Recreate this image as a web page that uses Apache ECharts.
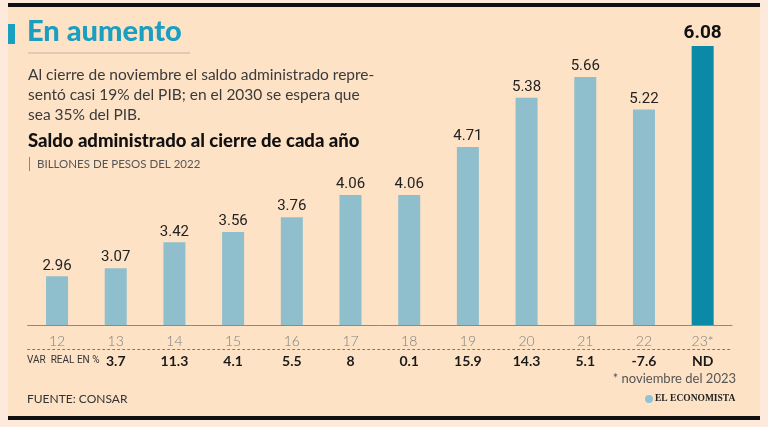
<!DOCTYPE html>
<html><head><meta charset="utf-8">
<script src="https://cdn.jsdelivr.net/npm/echarts@6/dist/echarts.min.js"></script>
<style>html,body{margin:0;padding:0;background:#fdeadc;}#c{width:768px;height:427px;}</style>
</head><body><div id="c"></div>
<script>
const years = ['12','13','14','15','16','17','18','19','20','21','22','23*'];
const saldo = [2.96,3.07,3.42,3.56,3.76,4.06,4.06,4.71,5.38,5.66,5.22,6.08];
const varReal = ['','3.7','11.3','4.1','5.5','8','0.1','15.9','14.3','5.1','-7.6','ND'];

const chart = echarts.init(document.getElementById('c'), null, {renderer:'canvas'});
const light = '#8fbfcc', dark = '#0a8aa6';
chart.setOption({
  backgroundColor: 'transparent',
  animation: false,
  grid: {left: 27.7, right: 36, top: 46, bottom: 102},
  xAxis: [{
    type: 'category', data: years, position: 'bottom',
    axisLine: {lineStyle: {color: '#8a8a8a', width: 1}},
    axisTick: {show: false},
    axisLabel: {color: '#808080', fontSize: 14, fontFamily: 'Lato', fontWeight: 300, margin: 9}
  }, {
    type: 'category', data: varReal, position: 'bottom', offset: 24,
    axisLine: {show: true, lineStyle: {color: '#777', type: [2,3], width: 1}},
    axisTick: {show: false},
    axisLabel: {color: '#1a1a1a', fontSize: 14, fontFamily: 'Lato', fontWeight: 'bold', margin: 5}
  }],
  yAxis: {type: 'value', min: 2.3, max: 6.08, show: false, splitLine: {show: false}},
  series: [{
    type: 'bar', barWidth: 22,
    data: saldo.map((v, i) => i === saldo.length - 1 ? {
      value: v, itemStyle: {color: dark},
      label: {fontSize: 19, fontWeight: 'bold', color: '#111', distance: 3}
    } : v),
    itemStyle: {color: light},
    label: {show: true, position: 'top', distance: 3, fontSize: 15, fontFamily: 'Roboto', color: '#222',
      formatter: p => saldo[p.dataIndex].toFixed(2)}
  }],
  graphic: [
    {type: 'rect', shape: {x: 8, y: 5, width: 752, height: 414}, style: {fill: '#fde2c6'}, z: -10},
    {type: 'rect', shape: {x: 8, y: 3, width: 752, height: 4}, style: {fill: '#111'}},
    {type: 'rect', shape: {x: 8, y: 416, width: 752, height: 4}, style: {fill: '#111'}},
    {type: 'rect', shape: {x: 8, y: 24, width: 7, height: 20}, style: {fill: '#1a9fc0'}},
    {type: 'text', left: 27, top: 17, style: {text: 'En aumento', fill: '#1a9fc0', font: '900 29px Lato'}},
    {type: 'line', shape: {x1: 28, y1: 53, x2: 190, y2: 53}, style: {stroke: '#bdb5aa', lineWidth: 1}},
    {type: 'text', left: 28, top: 65, style: {text: 'Al cierre de noviembre el saldo administrado repre-\nsentó casi 19% del PIB; en el 2030 se espera que\nsea 35% del PIB.', fill: '#3a3a3a', font: '15.5px Lato', lineHeight: 20}},
    {type: 'text', left: 28, top: 132, style: {text: 'Saldo administrado al cierre de cada año', fill: '#111', font: '900 18.5px Lato'}},
    {type: 'line', shape: {x1: 29.5, y1: 157, x2: 29.5, y2: 171}, style: {stroke: '#888', lineWidth: 1}},
    {type: 'text', left: 37, top: 158, style: {text: 'BILLONES DE PESOS DEL 2022', fill: '#555', font: '11.5px Lato'}},
    {type: 'text', left: 27, top: 355, style: {text: 'VAR  REAL EN %', fill: '#333', font: '10px Roboto'}},
    {type: 'text', right: 32, top: 372, style: {text: '* noviembre del 2023', fill: '#555', font: '13px Lato'}},
    {type: 'text', left: 27, top: 393, style: {text: 'FUENTE: CONSAR', fill: '#333', font: '12px Lato'}},
    {type: 'circle', shape: {cx: 649, cy: 399, r: 4}, style: {fill: '#8fc3d6'}},
    {type: 'text', left: 655, top: 394, style: {text: 'EL ECONOMISTA', fill: '#222', font: 'bold 9.5px "Liberation Serif"'}}
  ]
});
</script></body></html>
